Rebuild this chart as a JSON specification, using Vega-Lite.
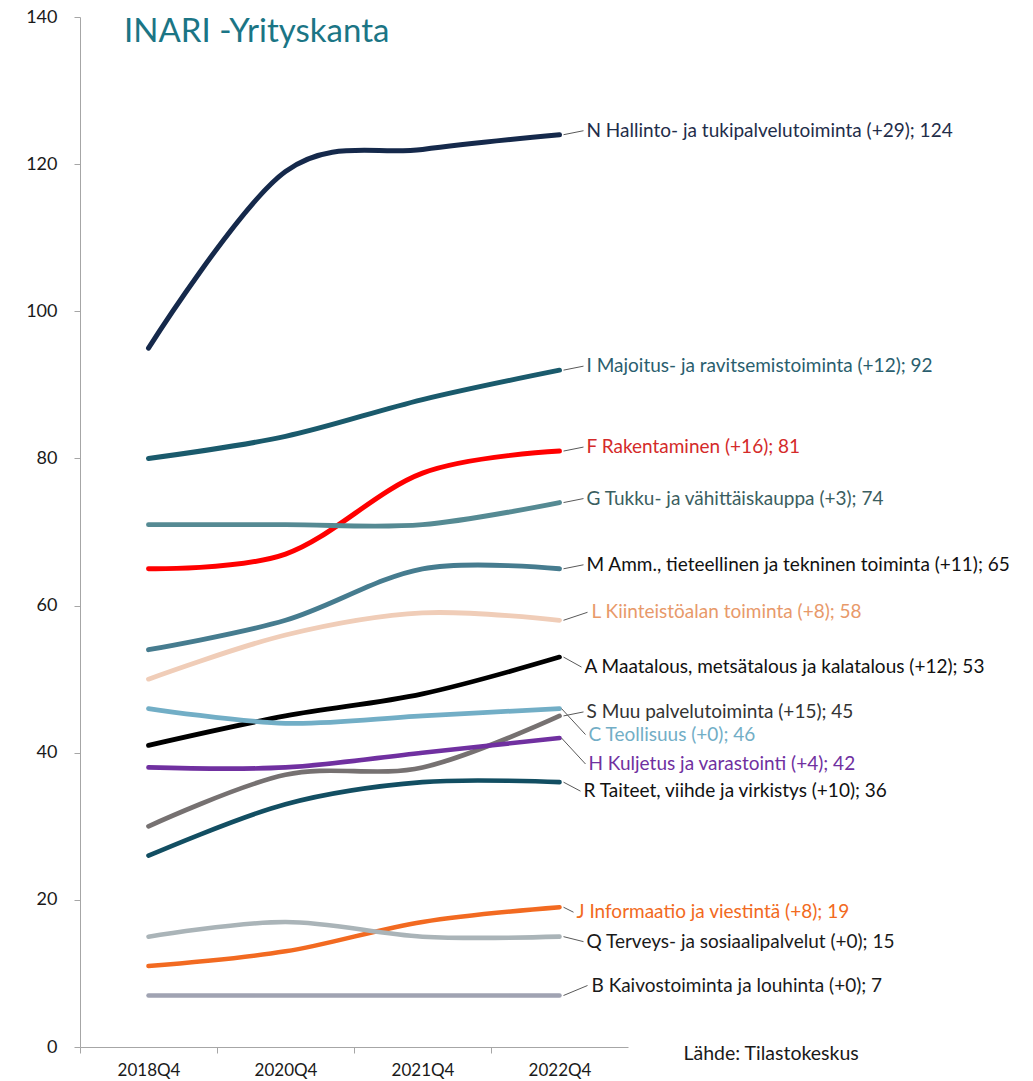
{
  "$schema": "https://vega.github.io/schema/vega-lite/v6.json",
  "width": 548,
  "height": 1030,
  "autosize": {"type": "none"},
  "padding": {"left": 80, "top": 17, "right": 405, "bottom": 34},
  "background": "white",
  "config": {"view": {"stroke": null}, "font": "Lato"},
  "title": {
    "text": "INARI -Yrityskanta",
    "anchor": "start",
    "frame": "group",
    "orient": "top",
    "offset": -30,
    "baseline": "alphabetic",
    "dx": 44,
    "dy": 37,
    "font": "Lato",
    "fontSize": 33,
    "fontWeight": "normal",
    "color": "#1B7585"
  },
  "data": {
    "values": [
      {"toimiala": "N", "nimi": "N Hallinto- ja tukipalvelutoiminta (+29); 124", "vuosi": "2018Q4", "yritykset": 95},
      {"toimiala": "N", "nimi": "N Hallinto- ja tukipalvelutoiminta (+29); 124", "vuosi": "2020Q4", "yritykset": 119},
      {"toimiala": "N", "nimi": "N Hallinto- ja tukipalvelutoiminta (+29); 124", "vuosi": "2021Q4", "yritykset": 122},
      {"toimiala": "N", "nimi": "N Hallinto- ja tukipalvelutoiminta (+29); 124", "vuosi": "2022Q4", "yritykset": 124},
      {"toimiala": "I", "nimi": "I Majoitus- ja ravitsemistoiminta (+12); 92", "vuosi": "2018Q4", "yritykset": 80},
      {"toimiala": "I", "nimi": "I Majoitus- ja ravitsemistoiminta (+12); 92", "vuosi": "2020Q4", "yritykset": 83},
      {"toimiala": "I", "nimi": "I Majoitus- ja ravitsemistoiminta (+12); 92", "vuosi": "2021Q4", "yritykset": 88},
      {"toimiala": "I", "nimi": "I Majoitus- ja ravitsemistoiminta (+12); 92", "vuosi": "2022Q4", "yritykset": 92},
      {"toimiala": "F", "nimi": "F Rakentaminen (+16); 81", "vuosi": "2018Q4", "yritykset": 65},
      {"toimiala": "F", "nimi": "F Rakentaminen (+16); 81", "vuosi": "2020Q4", "yritykset": 67},
      {"toimiala": "F", "nimi": "F Rakentaminen (+16); 81", "vuosi": "2021Q4", "yritykset": 78},
      {"toimiala": "F", "nimi": "F Rakentaminen (+16); 81", "vuosi": "2022Q4", "yritykset": 81},
      {"toimiala": "G", "nimi": "G Tukku- ja vähittäiskauppa (+3); 74", "vuosi": "2018Q4", "yritykset": 71},
      {"toimiala": "G", "nimi": "G Tukku- ja vähittäiskauppa (+3); 74", "vuosi": "2020Q4", "yritykset": 71},
      {"toimiala": "G", "nimi": "G Tukku- ja vähittäiskauppa (+3); 74", "vuosi": "2021Q4", "yritykset": 71},
      {"toimiala": "G", "nimi": "G Tukku- ja vähittäiskauppa (+3); 74", "vuosi": "2022Q4", "yritykset": 74},
      {"toimiala": "M", "nimi": "M Amm., tieteellinen  ja tekninen  toiminta (+11); 65", "vuosi": "2018Q4", "yritykset": 54},
      {"toimiala": "M", "nimi": "M Amm., tieteellinen  ja tekninen  toiminta (+11); 65", "vuosi": "2020Q4", "yritykset": 58},
      {"toimiala": "M", "nimi": "M Amm., tieteellinen  ja tekninen  toiminta (+11); 65", "vuosi": "2021Q4", "yritykset": 65},
      {"toimiala": "M", "nimi": "M Amm., tieteellinen  ja tekninen  toiminta (+11); 65", "vuosi": "2022Q4", "yritykset": 65},
      {"toimiala": "L", "nimi": "L Kiinteistöalan toiminta (+8); 58", "vuosi": "2018Q4", "yritykset": 50},
      {"toimiala": "L", "nimi": "L Kiinteistöalan toiminta (+8); 58", "vuosi": "2020Q4", "yritykset": 56},
      {"toimiala": "L", "nimi": "L Kiinteistöalan toiminta (+8); 58", "vuosi": "2021Q4", "yritykset": 59},
      {"toimiala": "L", "nimi": "L Kiinteistöalan toiminta (+8); 58", "vuosi": "2022Q4", "yritykset": 58},
      {"toimiala": "A", "nimi": "A Maatalous, metsätalous ja kalatalous (+12); 53", "vuosi": "2018Q4", "yritykset": 41},
      {"toimiala": "A", "nimi": "A Maatalous, metsätalous ja kalatalous (+12); 53", "vuosi": "2020Q4", "yritykset": 45},
      {"toimiala": "A", "nimi": "A Maatalous, metsätalous ja kalatalous (+12); 53", "vuosi": "2021Q4", "yritykset": 48},
      {"toimiala": "A", "nimi": "A Maatalous, metsätalous ja kalatalous (+12); 53", "vuosi": "2022Q4", "yritykset": 53},
      {"toimiala": "S", "nimi": "S Muu palvelutoiminta (+15); 45", "vuosi": "2018Q4", "yritykset": 30},
      {"toimiala": "S", "nimi": "S Muu palvelutoiminta (+15); 45", "vuosi": "2020Q4", "yritykset": 37},
      {"toimiala": "S", "nimi": "S Muu palvelutoiminta (+15); 45", "vuosi": "2021Q4", "yritykset": 38},
      {"toimiala": "S", "nimi": "S Muu palvelutoiminta (+15); 45", "vuosi": "2022Q4", "yritykset": 45},
      {"toimiala": "C", "nimi": "C Teollisuus (+0); 46", "vuosi": "2018Q4", "yritykset": 46},
      {"toimiala": "C", "nimi": "C Teollisuus (+0); 46", "vuosi": "2020Q4", "yritykset": 44},
      {"toimiala": "C", "nimi": "C Teollisuus (+0); 46", "vuosi": "2021Q4", "yritykset": 45},
      {"toimiala": "C", "nimi": "C Teollisuus (+0); 46", "vuosi": "2022Q4", "yritykset": 46},
      {"toimiala": "H", "nimi": "H Kuljetus ja varastointi (+4); 42", "vuosi": "2018Q4", "yritykset": 38},
      {"toimiala": "H", "nimi": "H Kuljetus ja varastointi (+4); 42", "vuosi": "2020Q4", "yritykset": 38},
      {"toimiala": "H", "nimi": "H Kuljetus ja varastointi (+4); 42", "vuosi": "2021Q4", "yritykset": 40},
      {"toimiala": "H", "nimi": "H Kuljetus ja varastointi (+4); 42", "vuosi": "2022Q4", "yritykset": 42},
      {"toimiala": "R", "nimi": "R Taiteet, viihde ja virkistys (+10); 36", "vuosi": "2018Q4", "yritykset": 26},
      {"toimiala": "R", "nimi": "R Taiteet, viihde ja virkistys (+10); 36", "vuosi": "2020Q4", "yritykset": 33},
      {"toimiala": "R", "nimi": "R Taiteet, viihde ja virkistys (+10); 36", "vuosi": "2021Q4", "yritykset": 36},
      {"toimiala": "R", "nimi": "R Taiteet, viihde ja virkistys (+10); 36", "vuosi": "2022Q4", "yritykset": 36},
      {"toimiala": "J", "nimi": "J Informaatio ja viestintä (+8); 19", "vuosi": "2018Q4", "yritykset": 11},
      {"toimiala": "J", "nimi": "J Informaatio ja viestintä (+8); 19", "vuosi": "2020Q4", "yritykset": 13},
      {"toimiala": "J", "nimi": "J Informaatio ja viestintä (+8); 19", "vuosi": "2021Q4", "yritykset": 17},
      {"toimiala": "J", "nimi": "J Informaatio ja viestintä (+8); 19", "vuosi": "2022Q4", "yritykset": 19},
      {"toimiala": "Q", "nimi": "Q Terveys- ja sosiaalipalvelut (+0); 15", "vuosi": "2018Q4", "yritykset": 15},
      {"toimiala": "Q", "nimi": "Q Terveys- ja sosiaalipalvelut (+0); 15", "vuosi": "2020Q4", "yritykset": 17},
      {"toimiala": "Q", "nimi": "Q Terveys- ja sosiaalipalvelut (+0); 15", "vuosi": "2021Q4", "yritykset": 15},
      {"toimiala": "Q", "nimi": "Q Terveys- ja sosiaalipalvelut (+0); 15", "vuosi": "2022Q4", "yritykset": 15},
      {"toimiala": "B", "nimi": "B Kaivostoiminta ja louhinta (+0); 7", "vuosi": "2018Q4", "yritykset": 7},
      {"toimiala": "B", "nimi": "B Kaivostoiminta ja louhinta (+0); 7", "vuosi": "2020Q4", "yritykset": 7},
      {"toimiala": "B", "nimi": "B Kaivostoiminta ja louhinta (+0); 7", "vuosi": "2021Q4", "yritykset": 7},
      {"toimiala": "B", "nimi": "B Kaivostoiminta ja louhinta (+0); 7", "vuosi": "2022Q4", "yritykset": 7}
    ]
  },
  "encoding": {
    "x": {
      "field": "vuosi",
      "type": "ordinal",
      "sort": ["2018Q4", "2020Q4", "2021Q4", "2022Q4"],
      "scale": {"type": "point", "padding": 0.5},
      "axis": {
        "title": "Lähde: Tilastokeskus",
        "titleX": 603,
        "titleY": 6,
        "titleAlign": "left",
        "titleBaseline": "middle",
        "titleFont": "Lato",
        "titleFontSize": 19.5,
        "titleFontWeight": "normal",
        "titleColor": "#1a1a1a",
        "labelAngle": 0,
        "labelFont": "Lato",
        "labelFontSize": 17,
        "labelColor": "#1a1a1a",
        "labelPadding": 9,
        "tickOffset": -68.5,
        "labelOffset": 68.5,
        "tickSize": 6,
        "tickColor": "#a6a6a6",
        "domainColor": "#a6a6a6",
        "grid": false
      }
    },
    "y": {
      "field": "yritykset",
      "type": "quantitative",
      "scale": {"domain": [0, 140], "nice": false},
      "axis": {
        "title": null,
        "values": [0, 20, 40, 60, 80, 100, 120, 140],
        "labelFont": "Lato",
        "labelFontSize": 18,
        "labelColor": "#1a1a1a",
        "labelPadding": 17,
        "tickSize": 6,
        "tickColor": "#a6a6a6",
        "domainColor": "#a6a6a6",
        "grid": false
      }
    }
  },
  "layer": [
    {
      "mark": {"type": "line", "interpolate": "cardinal", "strokeCap": "round", "strokeJoin": "round"},
      "encoding": {
        "detail": {"field": "toimiala"},
        "stroke": {
          "field": "toimiala",
          "legend": null,
          "scale": {
            "domain": ["B", "Q", "J", "R", "H", "S", "C", "A", "L", "M", "G", "F", "I", "N"],
            "range": ["#A0A3B2", "#AAB4B8", "#F26A21", "#124E62", "#7030A0", "#767171", "#72AEC6", "#000000", "#F0CDB8", "#467C8F", "#558A93", "#FF0000", "#1A5A6C", "#15294B"]
          }
        },
        "strokeWidth": {
          "field": "toimiala",
          "legend": null,
          "scale": {
            "domain": ["B", "Q", "J", "R", "H", "S", "C", "A", "L", "M", "G", "F", "I", "N"],
            "range": [4.5, 5, 5, 5, 5.5, 5.5, 5.5, 5.5, 5.5, 5.5, 5.5, 5, 5.5, 7.5]
          }
        }
      }
    },
    {
      "transform": [{"filter": {"and": [{"field": "vuosi", "equal": "2022Q4"}, {"field": "toimiala", "oneOf": ["N", "I", "F", "G", "M", "S"]}]}}],
      "layer": [
        {"mark": {"type": "rule", "color": "#595959", "strokeWidth": 1, "xOffset": 4, "x2Offset": 24, "y2Offset": -4},
         "encoding": {"x2": {"field": "vuosi"}, "y2": {"field": "yritykset"}}},
        {"mark": {"type": "text", "align": "left", "baseline": "middle", "dx": 27, "dy": -4, "font": "Lato", "fontSize": 19},
         "encoding": {"text": {"field": "nimi"}, "fill": {"field": "toimiala", "legend": null, "scale": {"domain": ["B", "Q", "J", "R", "H", "S", "C", "A", "L", "M", "G", "F", "I", "N"], "range": ["#1a1a1a", "#1a1a1a", "#F26A21", "#111111", "#7030A0", "#333333", "#72AEC6", "#111111", "#E8996A", "#111111", "#3B5E60", "#D42A2A", "#2A5E6E", "#1F2D4A"]}}}}
      ]
    },
    {
      "transform": [{"filter": {"and": [{"field": "vuosi", "equal": "2022Q4"}, {"field": "toimiala", "oneOf": ["L"]}]}}],
      "layer": [
        {"mark": {"type": "rule", "color": "#595959", "strokeWidth": 1, "xOffset": 4, "x2Offset": 28, "y2Offset": -8},
         "encoding": {"x2": {"field": "vuosi"}, "y2": {"field": "yritykset"}}},
        {"mark": {"type": "text", "align": "left", "baseline": "middle", "dx": 32, "dy": -8, "font": "Lato", "fontSize": 19},
         "encoding": {"text": {"field": "nimi"}, "fill": {"field": "toimiala", "legend": null, "scale": {"domain": ["B", "Q", "J", "R", "H", "S", "C", "A", "L", "M", "G", "F", "I", "N"], "range": ["#1a1a1a", "#1a1a1a", "#F26A21", "#111111", "#7030A0", "#333333", "#72AEC6", "#111111", "#E8996A", "#111111", "#3B5E60", "#D42A2A", "#2A5E6E", "#1F2D4A"]}}}}
      ]
    },
    {
      "transform": [{"filter": {"and": [{"field": "vuosi", "equal": "2022Q4"}, {"field": "toimiala", "oneOf": ["A"]}]}}],
      "layer": [
        {"mark": {"type": "rule", "color": "#595959", "strokeWidth": 1, "xOffset": 4, "x2Offset": 22, "y2Offset": 10},
         "encoding": {"x2": {"field": "vuosi"}, "y2": {"field": "yritykset"}}},
        {"mark": {"type": "text", "align": "left", "baseline": "middle", "dx": 25, "dy": 10, "font": "Lato", "fontSize": 19},
         "encoding": {"text": {"field": "nimi"}, "fill": {"field": "toimiala", "legend": null, "scale": {"domain": ["B", "Q", "J", "R", "H", "S", "C", "A", "L", "M", "G", "F", "I", "N"], "range": ["#1a1a1a", "#1a1a1a", "#F26A21", "#111111", "#7030A0", "#333333", "#72AEC6", "#111111", "#E8996A", "#111111", "#3B5E60", "#D42A2A", "#2A5E6E", "#1F2D4A"]}}}}
      ]
    },
    {
      "transform": [{"filter": {"and": [{"field": "vuosi", "equal": "2022Q4"}, {"field": "toimiala", "oneOf": ["C", "H"]}]}}],
      "layer": [
        {"mark": {"type": "rule", "color": "#595959", "strokeWidth": 1, "xOffset": 2, "x2Offset": 26, "y2Offset": 26},
         "encoding": {"x2": {"field": "vuosi"}, "y2": {"field": "yritykset"}}},
        {"mark": {"type": "text", "align": "left", "baseline": "middle", "dx": 29, "dy": 26, "font": "Lato", "fontSize": 19},
         "encoding": {"text": {"field": "nimi"}, "fill": {"field": "toimiala", "legend": null, "scale": {"domain": ["B", "Q", "J", "R", "H", "S", "C", "A", "L", "M", "G", "F", "I", "N"], "range": ["#1a1a1a", "#1a1a1a", "#F26A21", "#111111", "#7030A0", "#333333", "#72AEC6", "#111111", "#E8996A", "#111111", "#3B5E60", "#D42A2A", "#2A5E6E", "#1F2D4A"]}}}}
      ]
    },
    {
      "transform": [{"filter": {"and": [{"field": "vuosi", "equal": "2022Q4"}, {"field": "toimiala", "oneOf": ["R"]}]}}],
      "layer": [
        {"mark": {"type": "rule", "color": "#595959", "strokeWidth": 1, "xOffset": 4, "x2Offset": 21, "y2Offset": 9},
         "encoding": {"x2": {"field": "vuosi"}, "y2": {"field": "yritykset"}}},
        {"mark": {"type": "text", "align": "left", "baseline": "middle", "dx": 24, "dy": 9, "font": "Lato", "fontSize": 19},
         "encoding": {"text": {"field": "nimi"}, "fill": {"field": "toimiala", "legend": null, "scale": {"domain": ["B", "Q", "J", "R", "H", "S", "C", "A", "L", "M", "G", "F", "I", "N"], "range": ["#1a1a1a", "#1a1a1a", "#F26A21", "#111111", "#7030A0", "#333333", "#72AEC6", "#111111", "#E8996A", "#111111", "#3B5E60", "#D42A2A", "#2A5E6E", "#1F2D4A"]}}}}
      ]
    },
    {
      "transform": [{"filter": {"and": [{"field": "vuosi", "equal": "2022Q4"}, {"field": "toimiala", "oneOf": ["J"]}]}}],
      "layer": [
        {"mark": {"type": "rule", "color": "#595959", "strokeWidth": 1, "xOffset": 4, "x2Offset": 14, "y2Offset": 5},
         "encoding": {"x2": {"field": "vuosi"}, "y2": {"field": "yritykset"}}},
        {"mark": {"type": "text", "align": "left", "baseline": "middle", "dx": 17, "dy": 5, "font": "Lato", "fontSize": 19},
         "encoding": {"text": {"field": "nimi"}, "fill": {"field": "toimiala", "legend": null, "scale": {"domain": ["B", "Q", "J", "R", "H", "S", "C", "A", "L", "M", "G", "F", "I", "N"], "range": ["#1a1a1a", "#1a1a1a", "#F26A21", "#111111", "#7030A0", "#333333", "#72AEC6", "#111111", "#E8996A", "#111111", "#3B5E60", "#D42A2A", "#2A5E6E", "#1F2D4A"]}}}}
      ]
    },
    {
      "transform": [{"filter": {"and": [{"field": "vuosi", "equal": "2022Q4"}, {"field": "toimiala", "oneOf": ["Q"]}]}}],
      "layer": [
        {"mark": {"type": "rule", "color": "#595959", "strokeWidth": 1, "xOffset": 4, "x2Offset": 24, "y2Offset": 5},
         "encoding": {"x2": {"field": "vuosi"}, "y2": {"field": "yritykset"}}},
        {"mark": {"type": "text", "align": "left", "baseline": "middle", "dx": 27, "dy": 5, "font": "Lato", "fontSize": 19},
         "encoding": {"text": {"field": "nimi"}, "fill": {"field": "toimiala", "legend": null, "scale": {"domain": ["B", "Q", "J", "R", "H", "S", "C", "A", "L", "M", "G", "F", "I", "N"], "range": ["#1a1a1a", "#1a1a1a", "#F26A21", "#111111", "#7030A0", "#333333", "#72AEC6", "#111111", "#E8996A", "#111111", "#3B5E60", "#D42A2A", "#2A5E6E", "#1F2D4A"]}}}}
      ]
    },
    {
      "transform": [{"filter": {"and": [{"field": "vuosi", "equal": "2022Q4"}, {"field": "toimiala", "oneOf": ["B"]}]}}],
      "layer": [
        {"mark": {"type": "rule", "color": "#595959", "strokeWidth": 1, "xOffset": 4, "x2Offset": 28, "y2Offset": -10},
         "encoding": {"x2": {"field": "vuosi"}, "y2": {"field": "yritykset"}}},
        {"mark": {"type": "text", "align": "left", "baseline": "middle", "dx": 32, "dy": -10, "font": "Lato", "fontSize": 19},
         "encoding": {"text": {"field": "nimi"}, "fill": {"field": "toimiala", "legend": null, "scale": {"domain": ["B", "Q", "J", "R", "H", "S", "C", "A", "L", "M", "G", "F", "I", "N"], "range": ["#1a1a1a", "#1a1a1a", "#F26A21", "#111111", "#7030A0", "#333333", "#72AEC6", "#111111", "#E8996A", "#111111", "#3B5E60", "#D42A2A", "#2A5E6E", "#1F2D4A"]}}}}
      ]
    }
  ]
}
